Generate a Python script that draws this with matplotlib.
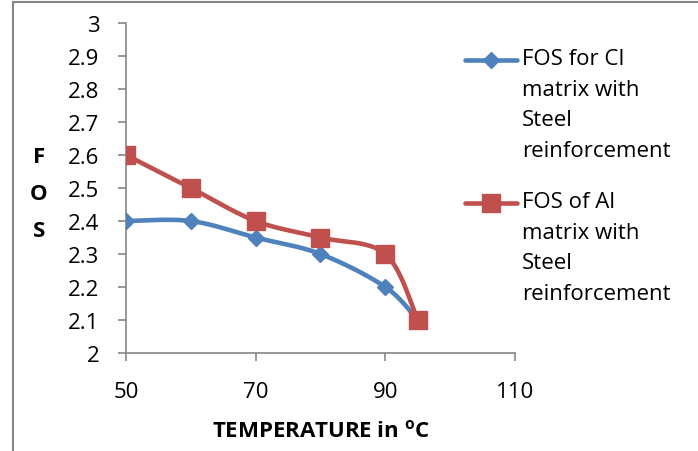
import matplotlib
matplotlib.use('Agg')
import numpy as np
import matplotlib.pyplot as plt
from matplotlib.lines import Line2D

# 数据
temperature = [50, 60, 70, 80, 90, 95]
fos_ci = [2.4, 2.4, 2.35, 2.3, 2.2, 2.1]
fos_al = [2.6, 2.5, 2.4, 2.35, 2.3, 2.1]

label_ci = "FOS for CI\nmatrix with\nSteel\nreinforcement"
label_al = "FOS of Al\nmatrix with\nSteel\nreinforcement"

BLUE = '#4F81BD'
RED = '#C0504D'
GRAY = '#868686'
FS = 16

plt.rcParams['font.family'] = ['Open Sans', 'DejaVu Sans']
plt.rcParams['mathtext.fontset'] = 'custom'
plt.rcParams['mathtext.bf'] = 'Open Sans:bold'
plt.rcParams['mathtext.rm'] = 'Open Sans'

XMIN, XMAX, YMIN, YMAX = 50, 110, 2, 3


def smooth_curve(x, y, sx, sy, n=40):
    """Excel 风格平滑曲线 (Catmull-Rom 贝塞尔), 在像素比例下计算"""
    px = (np.asarray(x, float) - XMIN) / (XMAX - XMIN) * sx
    py = (np.asarray(y, float) - YMIN) / (YMAX - YMIN) * sy
    pts = np.column_stack([px, py])
    out = []
    for i in range(len(pts) - 1):
        p0 = pts[i - 1] if i > 0 else pts[i]
        p1 = pts[i]
        p2 = pts[i + 1]
        p3 = pts[i + 2] if i + 2 < len(pts) else pts[i + 1]
        c1 = p1 + (p2 - p0) / 6.0
        c2 = p2 - (p3 - p1) / 6.0
        t = np.linspace(0, 1, n)[:, None]
        seg = ((1 - t) ** 3) * p1 + 3 * ((1 - t) ** 2) * t * c1 \
            + 3 * (1 - t) * t ** 2 * c2 + t ** 3 * p2
        out.append(seg if i == 0 else seg[1:])
    out = np.vstack(out)
    xs = out[:, 0] / sx * (XMAX - XMIN) + XMIN
    ys = out[:, 1] / sy * (YMAX - YMIN) + YMIN
    return xs, ys


fig = plt.figure(figsize=(6.98, 4.52), dpi=100)
ax = fig.add_axes([126 / 698, 1 - 354 / 452, 389 / 698, 330 / 452])

sx, sy = 389, 330
for y, color, marker, ms in [(fos_ci, BLUE, 'D', 8.5), (fos_al, RED, 's', 13.5)]:
    xs, ys = smooth_curve(temperature, y, sx, sy)
    ax.plot(xs, ys, color=color, lw=3.3, solid_capstyle='round', zorder=3)
    ax.plot(temperature, y, linestyle='none', marker=marker, ms=ms,
            color=color, mec=color, zorder=4)

ax.set_xlim(XMIN, XMAX)
ax.set_ylim(YMIN, YMAX)
ax.set_xticks([50, 70, 90, 110])
ax.set_yticks(np.round(np.arange(2, 3.01, 0.1), 1))
ax.set_yticklabels(['2', '2.1', '2.2', '2.3', '2.4', '2.5', '2.6', '2.7',
                    '2.8', '2.9', '3'])

for side in ['top', 'right']:
    ax.spines[side].set_visible(False)
for side in ['left', 'bottom']:
    ax.spines[side].set_color(GRAY)
    ax.spines[side].set_linewidth(1.2)
ax.tick_params(direction='out', length=6, width=1.2, color=GRAY,
               labelsize=FS, labelcolor='black')
ax.tick_params(axis='y', pad=13)
ax.tick_params(axis='x', pad=14)

# 坐标轴标题
ax.set_xlabel(r"TEMPERATURE in $\mathbf{^o}$C", fontsize=FS,
              fontweight='bold', labelpad=13)
fig.text(39 / 698, 1 - 195 / 452, "F\nO\nS", fontsize=FS, fontweight='bold',
         ha='center', va='center', linespacing=2.0)

# 图例
def legend_entry(y_px, color, marker, ms, text):
    yy = 1 - y_px / 452
    fig.add_artist(Line2D([465 / 698, 517 / 698], [yy, yy], color=color,
                          lw=3.3, solid_capstyle='round',
                          transform=fig.transFigure))
    fig.add_artist(Line2D([491 / 698], [yy], marker=marker, ms=ms,
                          color=color, mec=color, transform=fig.transFigure))
    fig.text(522 / 698, 1 - (y_px - 12) / 452, text, fontsize=FS,
             ha='left', va='top', linespacing=1.6)


legend_entry(61, BLUE, 'D', 8.5, label_ci)
legend_entry(204, RED, 's', 13.5, label_al)

# 图框 (左、上)
fig.add_artist(Line2D([13 / 698, 13 / 698], [0, 1 - 3 / 452], color=GRAY,
                      lw=1.5, transform=fig.transFigure))
fig.add_artist(Line2D([13 / 698, 1], [1 - 3 / 452, 1 - 3 / 452], color=GRAY,
                      lw=1.5, transform=fig.transFigure))

fig.savefig('out.png', dpi=100)
